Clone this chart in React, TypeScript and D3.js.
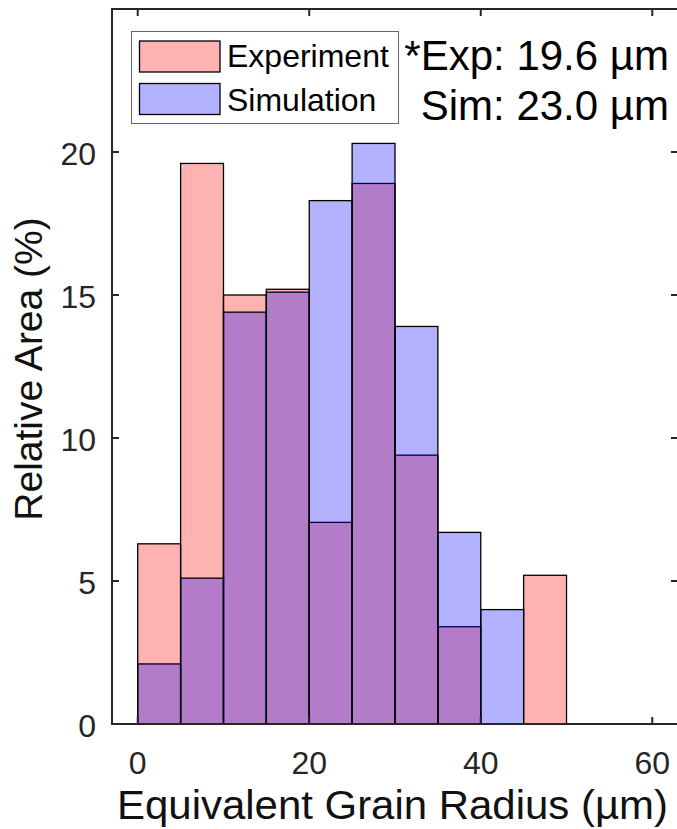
import React from "react";
import * as d3 from "d3";

const binEdges = [0, 5, 10, 15, 20, 25, 30, 35, 40, 45, 50];
const experiment = [6.3, 19.6, 15.0, 15.2, 7.05, 18.9, 9.4, 3.4, 0, 5.2];
const simulation = [2.1, 5.1, 14.4, 15.1, 18.3, 20.3, 13.9, 6.7, 4.0, 0];
const xTicks = [0, 20, 40, 60];
const yTicks = [0, 5, 10, 15, 20];
const seriesNames = ["Experiment", "Simulation"];
const annotations = ["*Exp: 19.6 \u00b5m", "Sim: 23.0 \u00b5m"];

const W = 677;
const H = 829;
const left = 112;
const right = 678;
const top = 9;
const bottom = 724;
const axisColor = "#262626";
const font = "'Liberation Sans', Arial, Helvetica, sans-serif";

export default function App() {
  const x = d3.scaleLinear().domain([-3, 63]).range([left, right]);
  const y = d3.scaleLinear().domain([0, 25]).range([bottom, top]);

  const bars = (vals: number[], color: string, key: string) =>
    vals.map((v, i) =>
      v > 0 ? (
        <rect
          key={key + i}
          x={x(binEdges[i])}
          y={y(v)}
          width={x(binEdges[i + 1]) - x(binEdges[i])}
          height={y(0) - y(v)}
          fill={color}
          fillOpacity={0.3}
          stroke="#000"
          strokeWidth={1.3}
        />
      ) : null
    );

  const tickLen = 7;

  return (
    <svg
      width={W}
      height={H}
      style={{ position: "absolute", left: 0, top: 0, display: "block", background: "#fff" }}
      fontFamily={font}
    >
      <rect x={0} y={0} width={W} height={H} fill="#fff" />
      {bars(experiment, "#ff0000", "e")}
      {bars(simulation, "#0000ff", "s")}

      {/* axes box */}
      <rect
        x={left}
        y={top}
        width={right - left}
        height={bottom - top}
        fill="none"
        stroke={axisColor}
        strokeWidth={2}
      />
      {xTicks.map((t) => (
        <g key={"xt" + t}>
          <line x1={x(t)} x2={x(t)} y1={bottom} y2={bottom - tickLen} stroke={axisColor} strokeWidth={2} />
          <line x1={x(t)} x2={x(t)} y1={top} y2={top + tickLen} stroke={axisColor} strokeWidth={2} />
          <text x={x(t)} y={774} textAnchor="middle" fontSize={32} fill={axisColor}>
            {t}
          </text>
        </g>
      ))}
      {yTicks.map((t) => (
        <g key={"yt" + t}>
          <line x1={left} x2={left + tickLen} y1={y(t)} y2={y(t)} stroke={axisColor} strokeWidth={2} />
          <line x1={right} x2={right - tickLen} y1={y(t)} y2={y(t)} stroke={axisColor} strokeWidth={2} />
          <text x={96} y={y(t) + 13} textAnchor="end" fontSize={32} fill={axisColor}>
            {t}
          </text>
        </g>
      ))}

      <text
        x={117}
        y={819}
        textAnchor="start"
        fontSize={40}
        fill="#111"
        textLength={551}
        lengthAdjust="spacingAndGlyphs"
      >
        Equivalent Grain Radius (µm)
      </text>
      <text
        transform={`translate(42, 369) rotate(-90)`}
        textAnchor="middle"
        fontSize={39}
        fill="#111"
      >
        Relative Area (%)
      </text>

      {/* legend */}
      <rect x={131.5} y={31.5} width={267} height={92} fill="#fff" stroke="#666" strokeWidth={1} />
      {seriesNames.map((n, i) => (
        <g key={n}>
          <rect
            x={139.5}
            y={41 + i * 42.5}
            width={80.5}
            height={31}
            fill={i === 0 ? "#ff0000" : "#0000ff"}
            fillOpacity={0.3}
            stroke="#000"
            strokeWidth={1.3}
          />
          <text x={227} y={67 + i * 43.5} fontSize={32} fill="#000">
            {n}
          </text>
        </g>
      ))}

      {annotations.map((a, i) => (
        <text key={a} x={669} y={70 + i * 50} textAnchor="end" fontSize={42} fill="#000">
          {a}
        </text>
      ))}
    </svg>
  );
}
